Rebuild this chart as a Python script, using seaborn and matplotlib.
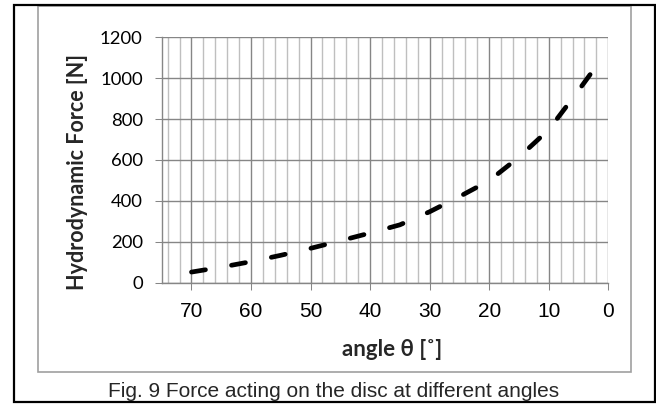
import matplotlib
matplotlib.use("Agg")
import matplotlib.pyplot as plt
import seaborn as sns
import pandas as pd
from matplotlib.patches import Rectangle
from matplotlib.ticker import MultipleLocator

# data
angle = [70, 65, 60, 55, 50, 45, 40, 35, 30, 25, 20, 15, 10, 5, 3]
force = [52, 76, 103, 134, 168, 205, 243, 283, 347, 421, 499, 614, 748, 940, 1020]
x_ticks = [70, 60, 50, 40, 30, 20, 10, 0]
y_ticks = [0, 200, 400, 600, 800, 1000, 1200]
x_label = "angle θ [˚]"
y_label = "Hydrodynamic Force [N]"
caption = "Fig. 9 Force acting on the disc at different angles"

df = pd.DataFrame({"angle": angle, "force": force})

sns.set_theme(style="white")
plt.rcParams["font.family"] = ["Liberation Sans", "DejaVu Sans"]

W, H = 656, 405
fig = plt.figure(figsize=(W / 100, H / 100), dpi=100)

def px(x0, y0, x1, y1):
    return [x0 / W, 1 - y1 / H, (x1 - x0) / W, (y1 - y0) / H]

ax = fig.add_axes(px(161.7, 37.3, 608.3, 282.7))

major_c = "#868686"
minor_c = "#bfbfbf"

sns.lineplot(data=df, x="angle", y="force", ax=ax, sort=False, color="black",
             linewidth=3.4, linestyle=(0, (3.0, 5.6)), dash_capstyle="round",
             zorder=5)

ax.set_xlim(75, 0)
ax.set_ylim(0, 1200)
ax.xaxis.set_major_locator(MultipleLocator(10))
ax.xaxis.set_minor_locator(MultipleLocator(2))
ax.set_xticks(x_ticks)
ax.set_yticks(y_ticks)

ax.grid(False)
for v in range(0, 76, 2):
    if v % 10 != 0:
        ax.axvline(v, color=minor_c, lw=1.0, zorder=1)
for v in x_ticks:
    ax.axvline(v, color=major_c, lw=1.0, zorder=2)
for v in y_ticks:
    ax.axhline(v, color=major_c, lw=1.0, zorder=2)

for s in ["top", "right"]:
    ax.spines[s].set_visible(False)
for s in ["left", "bottom"]:
    ax.spines[s].set_color(major_c)
    ax.spines[s].set_linewidth(1.0)

ax.tick_params(axis="both", which="major", direction="out", length=4.7,
               width=0.75, color=major_c, bottom=True, left=True)
ax.tick_params(axis="both", which="minor", length=0)
ax.tick_params(axis="x", pad=9.0, labelsize=15, labelcolor="black")
ax.tick_params(axis="y", pad=9.0, labelsize=13.3, labelcolor="black")
for t in ax.get_yticklabels():
    t.set_fontfamily(["Lato", "DejaVu Sans"])
for t in ax.get_xticklabels():
    t.set_fontfamily(["Liberation Sans", "DejaVu Sans"])

ax.set_xlabel(x_label, fontsize=16, fontweight="bold",
              family=["Lato", "Liberation Serif", "DejaVu Sans"])
ax.set_ylabel(y_label, fontsize=15.5, fontweight="bold",
              family=["Lato", "DejaVu Sans"])
ax.xaxis.set_label_coords((392 - 161.7) / 446.6, (282.7 - 350) / 245.4)
ax.yaxis.set_label_coords((78 - 161.7) / 446.6, (282.7 - 172) / 245.4)
ax.xaxis.label.set_va("center")
ax.yaxis.label.set_va("center")

# chart frame (gray) and figure frame (black)
fig.patches.append(Rectangle((37.5 / W, 1 - 372.3 / H), (631 - 37.5) / W,
                             (372.3 - 6) / H, transform=fig.transFigure,
                             fill=False, edgecolor="#a0a0a0", lw=1.2))
fig.patches.append(Rectangle((13.5 / W, 1 - 401.5 / H), (655 - 13.5) / W,
                             (401.5 - 5) / H, transform=fig.transFigure,
                             fill=False, edgecolor="black", lw=1.6))

fig.text(333.5 / W, 1 - 391.5 / H, caption, ha="center", va="center",
         fontsize=15, family=["Liberation Sans", "DejaVu Sans"])

fig.savefig("out.png", dpi=100)
